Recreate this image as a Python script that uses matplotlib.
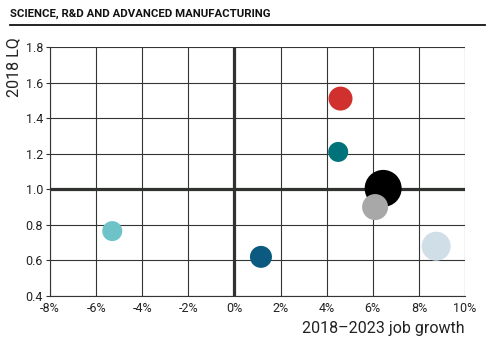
import matplotlib.pyplot as plt
from matplotlib.lines import Line2D

# Data
growth = [4.6, 4.5, 6.45, 6.1, 8.75, 1.15, -5.3]          # 2018-2023 job growth, %
lq = [1.51, 1.21, 1.005, 0.90, 0.68, 0.62, 0.765]          # 2018 location quotient
bubble = [12, 10, 18.5, 13, 14.5, 11, 10]                  # bubble radius (relative size)
colors = ["#d1312e", "#00737a", "#000000", "#a8a8a8", "#d0dee8", "#0d5a80", "#6dc3c7"]

x_ticks = list(range(-8, 11, 2))
y_ticks = [0.4, 0.6, 0.8, 1.0, 1.2, 1.4, 1.6, 1.8]
title = "SCIENCE, R&D AND ADVANCED MANUFACTURING"

plt.rcParams["font.family"] = ["Roboto", "DejaVu Sans"]

fig = plt.figure(figsize=(4.93, 3.46), dpi=100)
ax = fig.add_axes([50 / 493, 1 - 296 / 346, 415 / 493, 249 / 346])

ax.set_xlim(-8, 10)
ax.set_ylim(0.4, 1.8)
ax.set_xticks(x_ticks)
ax.set_yticks(y_ticks)
ax.set_xticklabels([f"{t}%" for t in x_ticks])
ax.set_yticklabels([f"{t:.1f}" for t in y_ticks])

grid_col = "#333533"
ax.grid(True, color=grid_col, linewidth=0.8)
ax.set_axisbelow(True)
for s in ["top", "right"]:
    ax.spines[s].set_visible(False)
for s in ["left", "bottom"]:
    ax.spines[s].set_color(grid_col)
    ax.spines[s].set_linewidth(0.8)
ax.tick_params(axis="x", length=0, pad=4, labelsize=9, colors="#222222")
ax.tick_params(axis="y", length=3, width=0.8, color=grid_col, pad=2, labelsize=9,
               colors="#222222")

ax.axhline(1.0, color="#2f322f", linewidth=2.3, zorder=1.5)
ax.axvline(0, color="#2f322f", linewidth=2.3, zorder=1.5)

sizes = [(2 * r * 72 / 100) ** 2 for r in bubble]
ax.scatter(growth, lq, s=sizes, c=colors, linewidths=0, zorder=3)

ax.set_xlabel("2018\u20132023 job growth", fontsize=11.5, color="#222222")
ax.xaxis.set_label_coords(1.0, -0.1)
ax.xaxis.label.set_horizontalalignment("right")
ax.set_ylabel("2018 LQ", fontsize=11.5, color="#222222")
ax.yaxis.set_label_coords(-0.105, 0.92)
ax.yaxis.label.set_verticalalignment("top")

fig.text(10 / 493, 1 - 14 / 346, title, fontsize=8.2, fontweight="bold",
         va="center", ha="left", color="#111111")
fig.add_artist(Line2D([10 / 493, 485 / 493], [1 - 25 / 346, 1 - 25 / 346],
                      color="#111111", linewidth=1.3))

fig.savefig("out.png", dpi=100)
